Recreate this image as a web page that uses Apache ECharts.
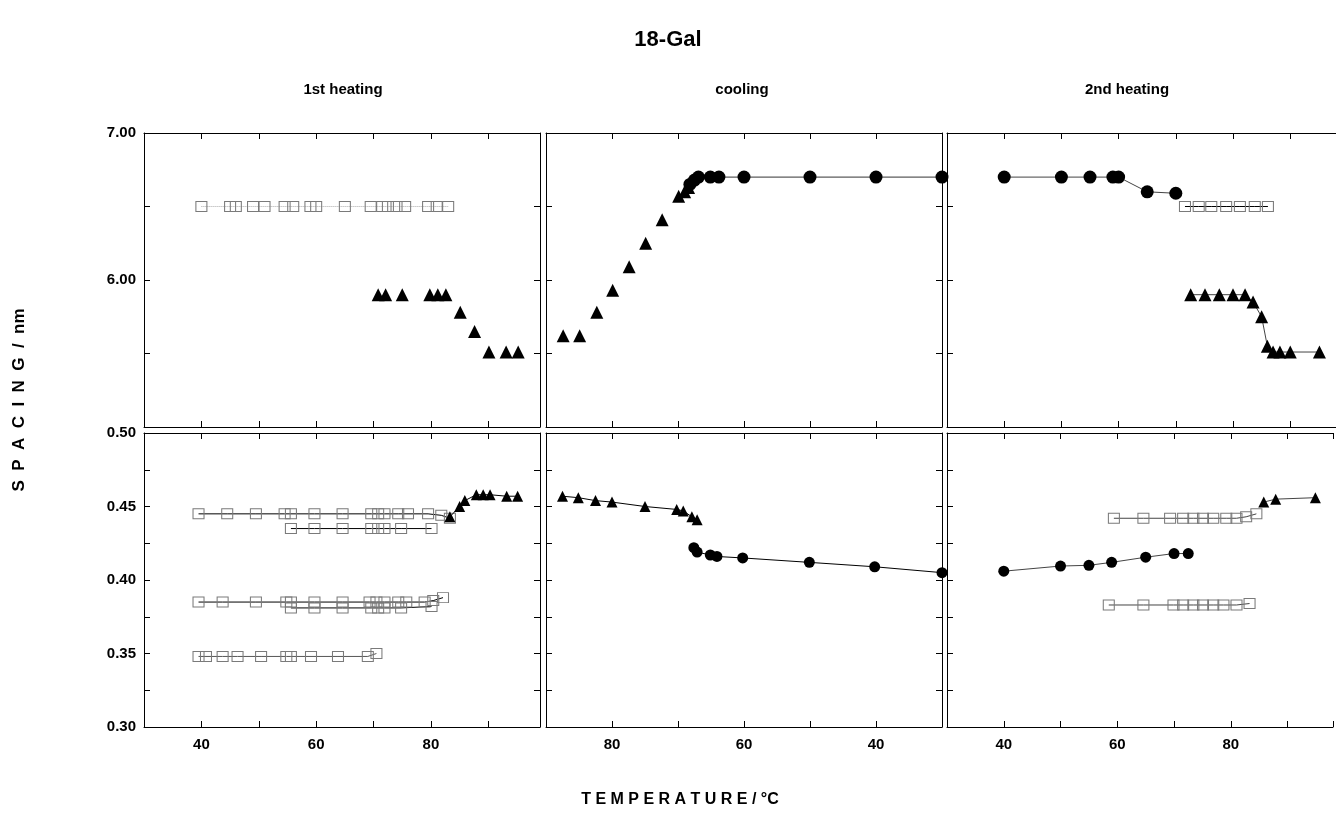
<!DOCTYPE html>
<html>
<head>
<meta charset="utf-8">
<script src="https://cdn.jsdelivr.net/npm/echarts@6/dist/echarts.min.js"></script>
<style>html,body{margin:0;padding:0;background:#fff}#c{width:1336px;height:835px}</style>
</head>
<body>
<div id="c"></div>
<script>
// ---------- data (temperature / °C, spacing / nm) ----------
// 1st heating, long spacings
var h1TopSqT = [40, 45, 46, 49, 51, 54.5, 56, 59, 60, 65, 69.5, 71.5, 72.5, 74, 75.5, 79.5, 81, 83];
var h1TopSqS = [6.50, 6.50, 6.50, 6.50, 6.50, 6.50, 6.50, 6.50, 6.50, 6.50, 6.50, 6.50, 6.50, 6.50, 6.50, 6.50, 6.50, 6.50];
var h1TopTriT = [70.8, 72.1, 75.0, 79.8, 81.2, 82.6, 85.1, 87.6, 90.1, 93.1, 95.2];
var h1TopTriS = [5.90, 5.90, 5.90, 5.90, 5.90, 5.90, 5.78, 5.65, 5.51, 5.51, 5.51];
// 1st heating, short spacings
var h1Row1T = [39.5, 44.5, 49.5, 54.5, 55.6, 59.7, 64.6, 69.6, 70.8, 71.9, 74.3, 76.0, 79.5, 81.8, 83.3];
var h1Row1S = [0.445, 0.445, 0.445, 0.445, 0.445, 0.445, 0.445, 0.445, 0.445, 0.445, 0.445, 0.445, 0.445, 0.444, 0.442];
var h1Row2T = [55.6, 59.7, 64.6, 69.6, 70.8, 71.9, 74.8, 80.1];
var h1Row2S = [0.435, 0.435, 0.435, 0.435, 0.435, 0.435, 0.435, 0.435];
var h1Row3T = [39.5, 43.7, 49.5, 54.8, 55.6, 59.7, 64.6, 69.3, 70.5, 71.9, 74.3, 75.7, 78.9, 80.4, 82.1];
var h1Row3S = [0.385, 0.385, 0.385, 0.385, 0.385, 0.385, 0.385, 0.385, 0.385, 0.385, 0.385, 0.385, 0.385, 0.386, 0.388];
var h1Row4T = [55.6, 59.7, 64.6, 69.6, 70.8, 71.9, 74.8, 80.1];
var h1Row4S = [0.381, 0.381, 0.381, 0.381, 0.381, 0.381, 0.381, 0.382];
var h1Row5T = [39.5, 40.8, 43.7, 46.3, 50.4, 54.8, 55.6, 59.1, 63.8, 69.0, 70.5];
var h1Row5S = [0.348, 0.348, 0.348, 0.348, 0.348, 0.348, 0.348, 0.348, 0.348, 0.348, 0.350];
var h1BotTriT = [83.3, 85.0, 85.9, 87.9, 89.1, 90.3, 93.2, 95.1];
var h1BotTriS = [0.443, 0.450, 0.454, 0.458, 0.458, 0.458, 0.457, 0.457];
// cooling
var cTopTriT = [87.4, 84.9, 82.3, 79.9, 77.4, 74.9, 72.4, 69.9, 69.0, 68.4];
var cTopTriS = [5.62, 5.62, 5.78, 5.93, 6.09, 6.25, 6.41, 6.57, 6.60, 6.63];
var cTopCirT = [68.2, 67.5, 66.9, 65.1, 63.8, 60.0, 50.0, 40.0, 30.0];
var cTopCirS = [6.65, 6.68, 6.70, 6.70, 6.70, 6.70, 6.70, 6.70, 6.70];
var cBotTriT = [87.5, 85.1, 82.5, 80.0, 75.0, 70.2, 69.2, 67.9, 67.1];
var cBotTriS = [0.457, 0.456, 0.454, 0.453, 0.450, 0.448, 0.447, 0.443, 0.441];
var cBotCirT = [67.6, 67.1, 65.1, 64.1, 60.2, 50.1, 40.2, 30.0];
var cBotCirS = [0.422, 0.419, 0.417, 0.416, 0.415, 0.412, 0.409, 0.405];
// 2nd heating
var h2TopCirT = [40, 50, 55, 59, 60, 65, 70];
var h2TopCirS = [6.70, 6.70, 6.70, 6.70, 6.70, 6.60, 6.59];
var h2TopSqT = [71.6, 74.0, 76.2, 78.8, 81.2, 83.8, 86.1];
var h2TopSqS = [6.50, 6.50, 6.50, 6.50, 6.50, 6.50, 6.50];
var h2TopTriT = [72.6, 75.1, 77.6, 80.0, 82.1, 83.5, 85.0, 86.0, 87.0, 88.2, 90.0, 95.1];
var h2TopTriS = [5.90, 5.90, 5.90, 5.90, 5.90, 5.85, 5.75, 5.55, 5.51, 5.51, 5.51, 5.51];
var h2BotCirT = [40, 50, 55, 59, 65, 70, 72.5];
var h2BotCirS = [0.406, 0.4095, 0.410, 0.412, 0.4155, 0.418, 0.418];
var h2BotTriT = [85.8, 87.9, 94.9];
var h2BotTriS = [0.453, 0.455, 0.456];
var h2Sq1T = [59.4, 64.6, 69.3, 71.6, 73.4, 75.1, 76.9, 79.2, 81.0, 82.7, 84.5];
var h2Sq1S = [0.442, 0.442, 0.442, 0.442, 0.442, 0.442, 0.442, 0.442, 0.442, 0.443, 0.445];
var h2Sq2T = [58.5, 64.6, 69.9, 71.6, 73.4, 75.1, 76.9, 78.7, 81.0, 83.3];
var h2Sq2S = [0.383, 0.383, 0.383, 0.383, 0.383, 0.383, 0.383, 0.383, 0.383, 0.384];

var panelTitles = ['1st heating', 'cooling', '2nd heating'];
var xTickLabels = [40, 60, 80];
var yTopLabels = [7, 6];

// ---------- layout ----------
var FONT = 'Liberation Sans, Arial, sans-serif';
var cols = [
  {left: 144, right: 796, min: 30, max: 99, inverse: false, rightLine: true},
  {left: 546, right: 394, min: 30, max: 90, inverse: true, rightLine: true},
  {left: 947, right: 0, min: 30, max: 98, inverse: false, rightLine: false}
];
var rows = [
  {top: 133, height: 294, min: 5, max: 7, interval: 0.5},
  {top: 433, height: 294, min: 0.3, max: 0.5, interval: 0.025}
];

function zip(a, b) { return a.map(function (v, i) { return [v, b[i]]; }); }

var grids = [], xAxes = [], yAxes = [], series = [];
var lineAx = {show: true, lineStyle: {color: '#000', width: 1}};
rows.forEach(function (r, ri) {
  cols.forEach(function (c, ci) {
    var g = grids.length;
    grids.push({left: c.left, right: c.right, top: r.top, height: r.height, show: false});
    var xBase = {type: 'value', gridIndex: g, min: c.min, max: c.max, interval: 10, inverse: c.inverse,
      splitLine: {show: false}, axisLine: lineAx,
      axisTick: {show: true, inside: true, length: 6, lineStyle: {color: '#000'}}};
    xAxes.push(Object.assign({}, xBase, {position: 'bottom',
      axisLabel: {show: ri === 1, margin: 10, fontFamily: FONT, fontWeight: 'bold', fontSize: 15, color: '#000',
        formatter: function (v) { return xTickLabels.indexOf(Math.round(v)) >= 0 && Math.abs(v - Math.round(v)) < 1e-6 ? String(Math.round(v)) : ''; }}}));
    xAxes.push(Object.assign({}, xBase, {position: 'top', axisLabel: {show: false}}));
    var yBase = {type: 'value', gridIndex: g, min: r.min, max: r.max, interval: r.interval,
      splitLine: {show: false}, axisLine: lineAx,
      axisTick: {show: true, inside: true, length: 6, lineStyle: {color: '#000'}}};
    yAxes.push(Object.assign({}, yBase, {position: 'left',
      axisLabel: {show: ci === 0, margin: 8, fontFamily: FONT, fontWeight: 'bold', fontSize: 15, color: '#000',
        formatter: function (v) {
          if (ri === 0) { return yTopLabels.some(function (t) { return Math.abs(t - v) < 1e-6; }) ? v.toFixed(2) : ''; }
          return Math.abs(v * 20 - Math.round(v * 20)) < 1e-6 ? v.toFixed(2) : '';
        }}}));
    yAxes.push(Object.assign({}, yBase, {position: 'right', axisLabel: {show: false},
      axisLine: {show: c.rightLine, lineStyle: {color: '#000', width: 1}},
      axisTick: {show: c.rightLine, inside: true, length: 6, lineStyle: {color: '#000'}}}));
  });
});

function idx(ri, ci) { return ri * 3 + ci; }
function add(ri, ci, T, S, kind, connect, lineOpts) {
  var g = idx(ri, ci);
  var s = {type: connect ? 'line' : 'scatter', xAxisIndex: 2 * g, yAxisIndex: 2 * g,
    data: zip(T, S), animation: false, silent: true, z: kind === 'sq' ? 3 : 4};
  if (kind === 'tri') {
    s.symbol = 'triangle'; s.symbolSize = ri === 0 ? 13 : 11;
    s.itemStyle = {color: '#000', opacity: 1};
  } else if (kind === 'cir') {
    s.symbol = 'circle'; s.symbolSize = ri === 0 ? 13 : 11;
    s.itemStyle = {color: '#000', opacity: 1};
  } else {
    s.symbol = 'rect'; s.symbolSize = [11, 10];
    s.itemStyle = {color: 'rgba(255,255,255,0)', borderColor: '#7a7a7a', borderWidth: 1, opacity: 1};
  }
  if (connect) {
    s.showSymbol = true; s.showAllSymbol = true;
    s.lineStyle = Object.assign({color: '#000', width: 1}, lineOpts || {});
  }
  series.push(s);
}

// 1st heating
add(0, 0, h1TopSqT, h1TopSqS, 'sq', true, {color: '#aaa', type: 'dotted'});
add(0, 0, h1TopTriT, h1TopTriS, 'tri', false);
add(1, 0, h1Row1T, h1Row1S, 'sq', true);
add(1, 0, h1Row2T, h1Row2S, 'sq', true);
add(1, 0, h1Row3T, h1Row3S, 'sq', true);
add(1, 0, h1Row4T, h1Row4S, 'sq', true);
add(1, 0, h1Row5T, h1Row5S, 'sq', true, {color: '#555'});
add(1, 0, h1BotTriT, h1BotTriS, 'tri', true);
// cooling
add(0, 1, cTopTriT, cTopTriS, 'tri', false);
add(0, 1, cTopCirT, cTopCirS, 'cir', true, {color: '#333'});
add(1, 1, cBotTriT, cBotTriS, 'tri', true);
add(1, 1, cBotCirT, cBotCirS, 'cir', true);
// 2nd heating
add(0, 2, h2TopCirT, h2TopCirS, 'cir', true, {color: '#444'});
add(0, 2, h2TopSqT, h2TopSqS, 'sq', true);
add(0, 2, h2TopTriT, h2TopTriS, 'tri', true, {color: '#444'});
add(1, 2, h2BotCirT, h2BotCirS, 'cir', true, {color: '#444'});
add(1, 2, h2BotTriT, h2BotTriS, 'tri', true, {color: '#444'});
add(1, 2, h2Sq1T, h2Sq1S, 'sq', true, {color: '#444'});
add(1, 2, h2Sq2T, h2Sq2S, 'sq', true, {color: '#444'});

var titleCenters = [343, 742, 1127];
var graphics = [
  {type: 'text', x: 668, y: 40, style: {text: '18-Gal', font: 'bold 22px ' + FONT, fill: '#000', textAlign: 'center', textVerticalAlign: 'middle'}},
  {type: 'text', x: 19, y: 400, rotation: Math.PI / 2,
    style: {text: 'S  P  A  C  I  N  G  /  nm', font: 'bold 17px ' + FONT, fill: '#000', textAlign: 'center', textVerticalAlign: 'middle'}},
  {type: 'text', x: 680, y: 800,
    style: {text: 'T E M P E R A T U R E / °C', font: 'bold 16px ' + FONT, fill: '#000', textAlign: 'center', textVerticalAlign: 'middle'}}
];
panelTitles.forEach(function (t, i) {
  graphics.push({type: 'text', x: titleCenters[i], y: 90,
    style: {text: t, font: 'bold 15px ' + FONT, fill: '#000', textAlign: 'center', textVerticalAlign: 'middle'}});
});

var chart = echarts.init(document.getElementById('c'), null, {renderer: 'canvas'});
chart.setOption({
  backgroundColor: '#fff',
  animation: false,
  grid: grids,
  xAxis: xAxes,
  yAxis: yAxes,
  series: series,
  graphic: graphics
});
</script>
</body>
</html>
